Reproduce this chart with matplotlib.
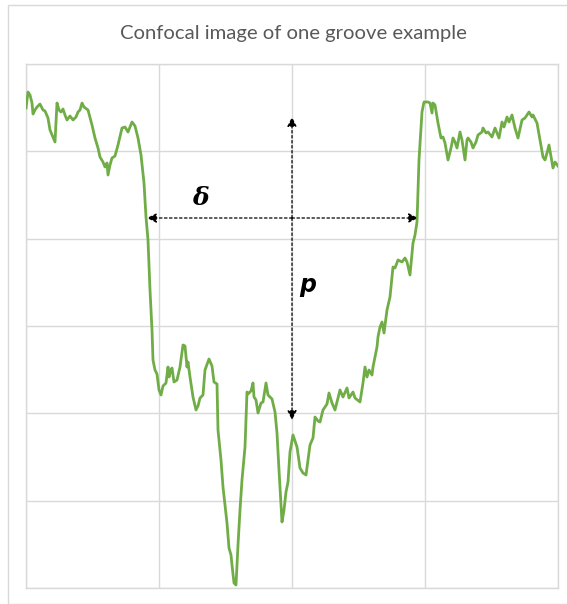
import matplotlib.pyplot as plt
from matplotlib.patches import Rectangle

# groove profile: sample position along the scan and surface height
position = [0, 2, 4, 6, 7, 9, 11, 14, 17, 19, 22, 24, 29, 31, 33, 35, 37, 39, 41, 44,
            47, 50, 52, 54, 56, 58, 62, 66, 69, 72, 74, 77, 79, 81, 82, 84, 86, 89, 92, 96,
            99, 102, 106, 109, 112, 115, 118, 120, 122, 124, 126, 127, 129, 131, 133, 135, 137, 140, 142, 143,
            145, 146, 148, 151, 154, 157, 159, 161, 162, 164, 167, 170, 172, 174, 177, 179, 183, 186, 188, 191,
            192, 195, 197, 201, 203, 205, 206, 208, 210, 212, 214, 216, 219, 221, 222, 225, 227, 228, 230, 232,
            235, 237, 240, 242, 246, 249, 251, 253, 256, 258, 260, 262, 264, 267, 271, 274, 277, 280, 282, 284,
            287, 289, 292, 294, 297, 301, 303, 306, 309, 314, 317, 321, 323, 327, 329, 334, 337, 339, 341, 343,
            346, 347, 351, 352, 354, 356, 358, 361, 364, 367, 369, 372, 376, 379, 381, 384, 387, 389, 391, 392,
            393, 396, 398, 402, 404, 406, 407, 409, 412, 415, 417, 419, 422, 425, 427, 429, 431, 434, 436, 439,
            441, 442, 445, 447, 450, 452, 456, 457, 460, 462, 466, 469, 471, 473, 476, 478, 481, 483, 486, 489,
            492, 496, 499, 503, 506, 507, 511, 514, 517, 519, 521, 523, 526, 527, 529, 532]
height = [480, 496, 493, 485, 474, 478, 481, 484, 478, 477, 470, 458, 446, 485, 478, 476, 479, 473, 468, 472,
          468, 471, 476, 478, 485, 481, 478, 463, 450, 440, 431, 426, 421, 425, 413, 423, 430, 432, 443, 460,
          461, 456, 466, 462, 450, 433, 405, 371, 348, 298, 258, 228, 218, 214, 198, 193, 202, 205, 221, 211,
          218, 220, 206, 208, 221, 243, 242, 221, 226, 211, 191, 178, 182, 190, 193, 218, 229, 222, 206, 204,
          158, 128, 101, 65, 40, 33, 23, 5, 3, 43, 78, 108, 141, 196, 194, 197, 205, 191, 188, 175,
          185, 186, 205, 193, 189, 176, 155, 118, 66, 78, 96, 106, 136, 153, 141, 120, 115, 113, 128, 143,
          150, 171, 167, 166, 178, 184, 195, 185, 178, 198, 191, 200, 190, 196, 190, 186, 205, 221, 211, 218,
          213, 221, 241, 251, 261, 266, 255, 278, 291, 321, 320, 328, 326, 330, 326, 313, 345, 353, 366, 398,
          428, 476, 486, 486, 485, 475, 485, 483, 465, 450, 451, 445, 428, 440, 450, 446, 440, 456, 448, 428,
          448, 450, 446, 440, 446, 453, 456, 460, 455, 456, 451, 460, 455, 450, 466, 461, 471, 466, 473, 460,
          450, 468, 470, 476, 471, 473, 465, 448, 431, 428, 435, 443, 426, 420, 426, 422]

# width (delta) and depth (p) markers
delta_x = [121, 392]
delta_y = 370
p_x = 266
p_y = [471, 168]

W, H = 567, 604
fig = plt.figure(figsize=(W / 100, H / 100), dpi=100)
fig.patches.append(Rectangle((8 / W, 0.5 / H), 1, (H - 5) / H, transform=fig.transFigure,
                             fill=False, edgecolor="#d9d9d9", lw=1))

ax = fig.add_axes([26 / W, 16 / H, 532 / W, 524 / H])
ax.set_xlim(0, 532)
ax.set_ylim(0, 524)
ax.set_xticks([0, 133, 266, 399, 532])
ax.set_yticks([524 / 6 * i for i in range(7)])
ax.tick_params(length=0, labelbottom=False, labelleft=False)
ax.grid(True, color="#d9d9d9", lw=1)
for s in ax.spines.values():
    s.set_color("#d9d9d9")
    s.set_linewidth(1)

ax.plot(position, height, color="#70ad47", lw=2.0, zorder=3, solid_joinstyle="round")

arrow = dict(arrowstyle="-|>", linestyle=(0, (2, 2)), color="black", lw=0.9,
             mutation_scale=14, shrinkA=0, shrinkB=0)
for xe in delta_x:
    ax.annotate("", xy=(xe, delta_y), xytext=(p_x, delta_y), arrowprops=arrow, zorder=4)
for ye in p_y:
    ax.annotate("", xy=(p_x, ye), xytext=(p_x, delta_y), arrowprops=arrow, zorder=4)

ax.text(174, 390, "δ", fontsize=18, family="DejaVu Serif", style="italic",
        fontweight="bold", ha="center", va="center")
ax.text(282, 303, "p", fontsize=17, family="DejaVu Sans", style="italic",
        fontweight="bold", ha="center", va="center")

fig.text(293 / W, 1 - 33 / H, "Confocal image of one groove example", fontsize=14.6,
         family="Lato", color="#595959", ha="center", va="center")

fig.savefig("out.png", dpi=100)
